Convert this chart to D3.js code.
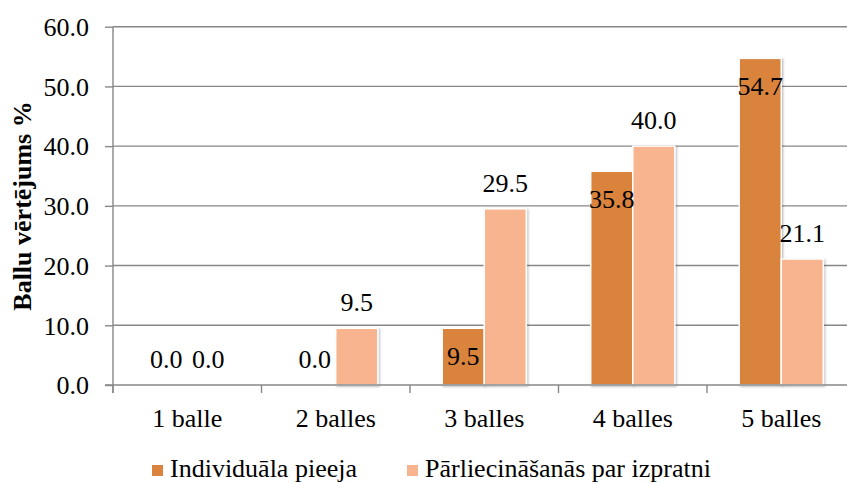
<!DOCTYPE html>
<html><head><meta charset="utf-8">
<script src="https://cdn.jsdelivr.net/npm/d3@7"></script>
<style>html,body{margin:0;padding:0;background:#fff;}svg{display:block;}
svg text{font-family:"Liberation Serif","Times New Roman",Times,"DejaVu Serif",serif;}</style>
</head><body>
<svg id="c" width="847" height="483"></svg>
<script>
const categories = ["1 balle", "2 balles", "3 balles", "4 balles", "5 balles"];
const seriesNames = ["Individuāla pieeja", "Pārliecināšanās par izpratni"];
const individuala = [0.0, 0.0, 9.5, 35.8, 54.7];
const parliecinasana = [0.0, 9.5, 29.5, 40.0, 21.1];
const yTicks = [0, 10, 20, 30, 40, 50, 60];
const yTitle = "Ballu vērtējums %";
const colors = ["#D9833E", "#F8B48E"];

(function () {
const svg = d3.select("#c");
const pLeft = 113, pRight = 855.5, pTop = 26.7, pBottom = 385;
const gridColor = "#878787";

const defs = svg.append("defs");
const f = defs.append("filter").attr("id","sh").attr("x","-20%").attr("y","-20%").attr("width","140%").attr("height","140%");
f.append("feDropShadow").attr("dx",1.2).attr("dy",1).attr("stdDeviation",1).attr("flood-color","#000").attr("flood-opacity",0.28);

const y = d3.scaleLinear().domain([0, 60]).range([pBottom, pTop]);
const x0 = d3.scaleBand().domain(categories).range([pLeft, pRight]).paddingInner(0.434).paddingOuter(0.217);
const x1 = d3.scaleBand().domain([0, 1]).range([0, x0.bandwidth()]).padding(0);

// gridlines
svg.append("g").selectAll("line").data(yTicks.filter(d => d > 0)).join("line")
  .attr("x1", pLeft).attr("x2", pRight).attr("y1", d => y(d)).attr("y2", d => y(d))
  .attr("stroke", gridColor).attr("stroke-width", 1.4);

// y axis
const ya = svg.append("g").attr("transform", `translate(${pLeft},0)`)
  .call(d3.axisLeft(y).tickValues(yTicks).tickFormat(d3.format(".1f")).tickSize(8).tickPadding(16));
ya.attr("font-family", null).attr("font-size", null);
ya.select(".domain").remove();
ya.selectAll(".tick line").attr("stroke", gridColor).attr("stroke-width", 1.4);
ya.selectAll(".tick text").style("font-size", "26px").attr("fill", "#000").attr("dy", "0.34em");
svg.append("line").attr("x1", pLeft).attr("x2", pLeft).attr("y1", pTop).attr("y2", pBottom + 8)
  .attr("stroke", gridColor).attr("stroke-width", 1.4);

// bars
const data = categories.map((c, i) => ({c, vals: [individuala[i], parliecinasana[i]]}));
const groups = svg.append("g").selectAll("g").data(data).join("g")
  .attr("transform", d => `translate(${x0(d.c)},0)`);
groups.selectAll("rect").data(d => d.vals.map((v, k) => ({v, k})).filter(e => e.v > 0)).join("rect")
  .attr("x", e => x1(e.k)).attr("width", x1.bandwidth())
  .attr("y", e => y(e.v)).attr("height", e => y(0) - y(e.v))
  .attr("fill", e => colors[e.k]).attr("stroke", "#fff").attr("stroke-width", 1.5)
  .attr("filter", "url(#sh)");

// x axis line & ticks
svg.append("line").attr("x1", pLeft - 8).attr("x2", pRight).attr("y1", pBottom).attr("y2", pBottom)
  .attr("stroke", gridColor).attr("stroke-width", 1.4);
const bounds = d3.range(categories.length + 1).map(i => x0.range()[0] + i * x0.step());
svg.append("g").selectAll("line").data(bounds).join("line")
  .attr("x1", d => d).attr("x2", d => d).attr("y1", pBottom).attr("y2", pBottom + 8)
  .attr("stroke", gridColor).attr("stroke-width", 1.4);
svg.append("g").selectAll("text").data(categories).join("text")
  .attr("x", d => x0(d) + x0.bandwidth() / 2).attr("y", pBottom + 42)
  .attr("text-anchor", "middle").style("font-size", "26px").attr("fill", "#000")
  .text(d => d);

// labels
groups.selectAll("text").data(d => d.vals.map((v, k) => ({v, k}))).join("text")
  .attr("x", e => x1(e.k) + x1.bandwidth() / 2)
  .attr("y", e => (e.k === 0 && e.v > 0) ? y(e.v) + 37 : y(e.v) - 17)
  .attr("text-anchor", "middle").style("font-size", "26px").attr("fill", "#000")
  .text(e => d3.format(".1f")(e.v));

// y title
svg.append("text").attr("transform", `translate(31,206) rotate(-90)`)
  .attr("text-anchor", "middle").style("font-size", "26px").style("font-weight", "bold")
  .attr("fill", "#000").text(yTitle);

// legend
const legX = [152, 407];
const leg = svg.append("g").selectAll("g").data(seriesNames).join("g")
  .attr("transform", (d, i) => `translate(${legX[i]},0)`);
leg.append("rect").attr("x", 0).attr("y", 465).attr("width", 11).attr("height", 11).attr("fill", (d, i) => colors[i]);
leg.append("text").attr("x", 18).attr("y", 477).style("font-size", "26px").attr("fill", "#000").text(d => d);
})();
</script>
</body></html>
